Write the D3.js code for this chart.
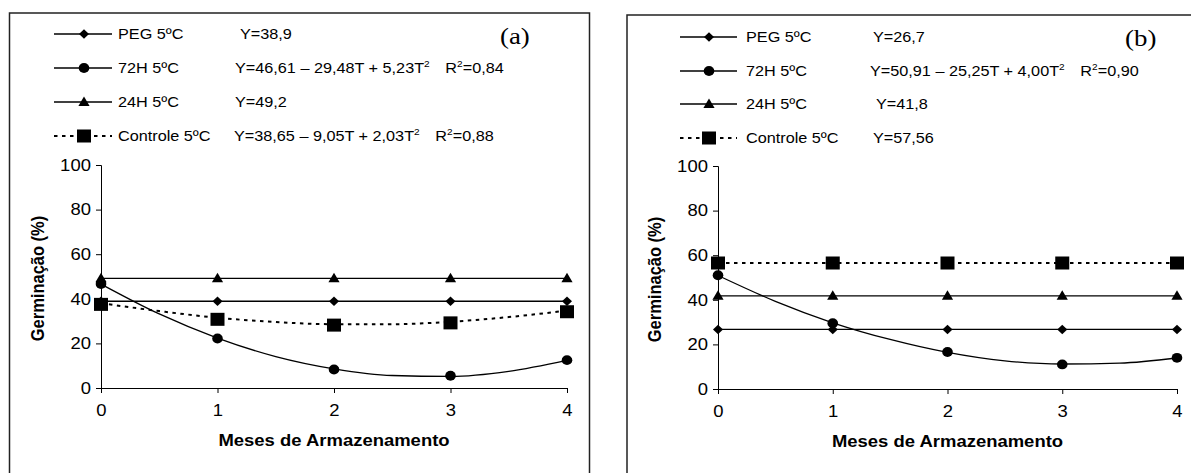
<!DOCTYPE html>
<html><head><meta charset="utf-8">
<script src="https://cdn.jsdelivr.net/npm/d3@7"></script>
<style>
body{margin:0;background:#fff;}
svg{display:block;}
</style></head>
<body>
<svg id="c" width="1191" height="473"></svg>
<script>
// ---------- data ----------
const months = [0, 1, 2, 3, 4];
const trendT = [0, 0.5, 1, 1.5, 2, 2.5, 3, 3.5, 4];
const xTicks = [0, 1, 2, 3, 4];
const yTicks = [0, 20, 40, 60, 80, 100];
const seriesNames = ["PEG 5ºC", "72H 5ºC", "24H 5ºC", "Controle 5ºC"];

// panel (a)
const pegA = [38.9, 38.9, 38.9, 38.9, 38.9];
const h72A = [46.6, 22.2, 8.3, 5.5, 12.5];
const h72A_trend = [46.6, 33.2, 22.4, 14.1, 8.6, 5.6, 5.2, 7.5, 12.4];
const h24A = [49.2, 49.2, 49.2, 49.2, 49.2];
const ctrlA = [37.5, 30.8, 28.2, 29.2, 34.2];
const ctrlA_trend = [38.0, 34.5, 31.5, 29.6, 28.6, 28.6, 29.7, 31.8, 34.7];
const eqA = [["Y=38,9"], ["Y=46,61 – 29,48T + 5,23T", "2", "R", "2", "=0,84"], ["Y=49,2"], ["Y=38,65 – 9,05T + 2,03T", "2", "R", "2", "=0,88"]];

// panel (b)
const pegB = [26.7, 26.7, 26.7, 26.7, 26.7];
const h72B = [51.0, 29.5, 16.6, 11.0, 14.0];
const h72B_trend = [50.9, 39.3, 29.7, 22.2, 16.4, 12.6, 11.2, 11.6, 13.9];
const h24B = [41.8, 41.8, 41.8, 41.8, 41.8];
const ctrlB = [56.5, 56.5, 56.5, 56.5, 56.5];
const eqB = [["Y=26,7"], ["Y=50,91 – 25,25T + 4,00T", "2", "R", "2", "=0,90"], ["Y=41,8"], ["Y=57,56"]];

// ---------- drawing ----------
const SX = 1.12;          // horizontal stretch of the original figure's lettering
const SANS = "'Liberation Sans', Arial, sans-serif";
const SERIF = "'Liberation Serif', 'Times New Roman', serif";
const svg = d3.select("#c");

function txt(g, x, y, size, opts = {}) {
  return g.append("text")
    .attr("transform", `translate(${x},${y}) scale(${SX},1)`)
    .style("font-family", opts.family || SANS)
    .style("font-size", size + "px")
    .style("font-weight", opts.bold ? "bold" : "normal")
    .attr("text-anchor", opts.anchor || "start")
    .attr("fill", "#000");
}

function marker(g, type, cx, cy) {
  if (type === "diamond") {
    g.append("path").attr("d", `M${cx},${cy-4.8}L${cx+5},${cy}L${cx},${cy+4.8}L${cx-5},${cy}Z`).attr("fill", "#000");
  } else if (type === "circle") {
    g.append("ellipse").attr("cx", cx).attr("cy", cy).attr("rx", 5.3).attr("ry", 4.9).attr("fill", "#000");
  } else if (type === "triangle") {
    g.append("path").attr("d", `M${cx},${cy-5.5}L${cx+5.6},${cy+4}L${cx-5.6},${cy+4}Z`).attr("fill", "#000");
  } else if (type === "square") {
    g.append("rect").attr("x", cx-7).attr("y", cy-6.5).attr("width", 14).attr("height", 13).attr("fill", "#000");
  }
}

function eqText(g, x, y, parts) {
  const t = txt(g, x, y, 14.5);
  t.append("tspan").text(parts[0]);
  if (parts.length > 1) {
    t.append("tspan").text(parts[1]).style("font-size", "9px").attr("dy", -6);
    t.append("tspan").text(parts[2]).attr("dx", 14).attr("dy", 6);
    t.append("tspan").text(parts[3]).style("font-size", "9px").attr("dy", -6);
    t.append("tspan").text(parts[4]).attr("dy", 6);
  }
}

function drawPanel(cfg) {
  const g = svg.append("g");
  g.append("rect").attr("x", cfg.box[0]).attr("y", cfg.box[1]).attr("width", cfg.box[2]).attr("height", cfg.box[3])
    .attr("fill", "none").attr("stroke", "#222").attr("stroke-width", 1.5);

  const x = d3.scaleLinear().domain([0, 4]).range(cfg.xr);
  const y = d3.scaleLinear().domain([0, 100]).range(cfg.yr);

  const ax = g.append("g").attr("transform", `translate(0,${y(0)})`)
    .call(d3.axisBottom(x).tickValues(xTicks).tickSize(5).tickPadding(11).tickFormat(d3.format("d")));
  const ay = g.append("g").attr("transform", `translate(${x(0)},0)`)
    .call(d3.axisLeft(y).tickValues(yTicks).tickSize(5).tickPadding(4).tickFormat(d3.format("d")));
  [ax, ay].forEach(a => {
    a.selectAll("path,line").attr("stroke", "#000").attr("stroke-width", 1);
    a.selectAll("text").style("font-size", "16.5px").style("font-family", SANS).attr("fill", "#000")
      .attr("transform", `scale(${SX},1)`);
  });
  ax.selectAll("text").attr("x", 0);

  txt(g, (x(0) + x(4)) / 2, y(0) + 58, 16.5, { bold: true, anchor: "middle" }).text("Meses de Armazenamento");
  g.append("text").attr("transform", `translate(${x(0) - 57},${(y(0) + y(100)) / 2 + 2}) rotate(-90) scale(1,${SX})`)
    .attr("text-anchor", "middle").style("font-size", "16.5px").style("font-weight", "bold").style("font-family", SANS)
    .text("Germinação (%)");
  txt(g, cfg.tag[0], cfg.tag[1], 24, { family: SERIF }).text(cfg.tagText);

  const curve = d3.line().x(d => x(d[0])).y(d => y(d[1])).curve(d3.curveMonotoneX);

  cfg.series.forEach(s => {
    const pts = s.trend ? trendT.map((t, i) => [t, s.trend[i]]) : [[months[0], s.level], [months[months.length - 1], s.level]];
    const p = g.append("path").attr("d", curve(pts)).attr("fill", "none").attr("stroke", "#000");
    if (s.dotted) p.attr("stroke-width", 2).attr("stroke-dasharray", "3.5,4.5");
    else p.attr("stroke-width", 1.3);
    months.forEach((m, i) => marker(g, s.marker, x(m), y(s.values[i])));
  });

  cfg.series.forEach((s, i) => {
    const ly = cfg.legY[i];
    const [lx0, lx1, mx, tx] = cfg.legX;
    const l = g.append("line").attr("x1", lx0).attr("x2", lx1).attr("y1", ly).attr("y2", ly).attr("stroke", "#000");
    if (s.dotted) l.attr("stroke-width", 2).attr("stroke-dasharray", "3.5,4.5");
    else l.attr("stroke-width", 1.3);
    marker(g, s.marker, mx, ly);
    txt(g, tx, ly + 5, 14.5).text(seriesNames[i]);
    eqText(g, cfg.eqX[i], ly + 5, cfg.eqs[i]);
  });
}

drawPanel({
  box: [9.5, 13, 580, 480],
  xr: [101, 567], yr: [388, 165],
  tag: [500, 44], tagText: "(a)",
  legY: [34, 68, 102, 136], legX: [54, 112, 84, 118],
  eqX: [240, 235, 235, 234],
  eqs: eqA,
  series: [
    { marker: "diamond", values: pegA, level: pegA[0] },
    { marker: "circle", values: h72A, trend: h72A_trend },
    { marker: "triangle", values: h24A, level: h24A[0] },
    { marker: "square", values: ctrlA, trend: ctrlA_trend, dotted: true }
  ]
});

drawPanel({
  box: [627, 15, 600, 480],
  xr: [718, 1177], yr: [389, 166],
  tag: [1125, 46], tagText: "(b)",
  legY: [37, 71, 104, 138], legX: [680, 737, 709, 746],
  eqX: [873, 870, 876, 873],
  eqs: eqB,
  series: [
    { marker: "diamond", values: pegB, level: pegB[0] },
    { marker: "circle", values: h72B, trend: h72B_trend },
    { marker: "triangle", values: h24B, level: h24B[0] },
    { marker: "square", values: ctrlB, level: ctrlB[0], dotted: true }
  ]
});
</script>
</body></html>
